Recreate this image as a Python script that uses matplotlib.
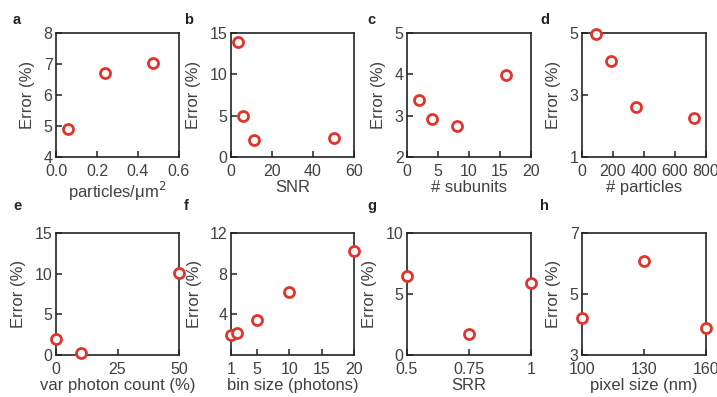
import matplotlib.pyplot as plt

plt.rcParams['font.family'] = ['Liberation Sans', 'DejaVu Sans']
plt.rcParams['font.size'] = 9

# Error (%) for each simulation parameter sweep
dens_x = [0.06, 0.24, 0.475]
dens_y = [4.9, 6.72, 7.02]

snr_x = [3.5, 6, 11, 50]
snr_y = [13.9, 5.0, 2.0, 2.3]

sub_x = [2, 4, 8, 16]
sub_y = [3.37, 2.93, 2.75, 3.99]

npart_x = [90, 185, 350, 720]
npart_y = [4.98, 4.1, 2.6, 2.26]

var_x = [0, 10, 50]
var_y = [1.95, 0.2, 10.1]

bin_x = [1, 2, 5, 10, 20]
bin_y = [2.0, 2.2, 3.4, 6.2, 10.2]

srr_x = [0.5, 0.75, 1.0]
srr_y = [6.5, 1.7, 5.9]

pix_x = [100, 130, 160]
pix_y = [4.2, 6.08, 3.88]

panels = [
    ('a', dens_x, dens_y, 'particles/μm$^{2}$', (0, 0.6), [0, 0.2, 0.4, 0.6], None,
     (4, 8), [4, 5, 6, 7, 8]),
    ('b', snr_x, snr_y, 'SNR', (0, 60), [0, 20, 40, 60], None,
     (0, 15), [0, 5, 10, 15]),
    ('c', sub_x, sub_y, '# subunits', (0, 20), [0, 5, 10, 15, 20], None,
     (2, 5), [2, 3, 4, 5]),
    ('d', npart_x, npart_y, '# particles', (0, 800), [0, 200, 400, 600, 800], None,
     (1, 5), [1, 3, 5]),
    ('e', var_x, var_y, 'var photon count (%)', (0, 50), [0, 25, 50], None,
     (0, 15), [0, 5, 10, 15]),
    ('f', bin_x, bin_y, 'bin size (photons)', (1, 20), [1, 5, 10, 15, 20], None,
     (0, 12), [4, 8, 12]),
    ('g', srr_x, srr_y, 'SRR', (0.5, 1.0), [0.5, 0.75, 1.0], ['0.5', '0.75', '1'],
     (0, 10), [0, 5, 10]),
    ('h', pix_x, pix_y, 'pixel size (nm)', (100, 160), [100, 130, 160], None,
     (3, 7), [3, 5, 7]),
]

W, H = 717, 397
fig = plt.figure(figsize=(W / 100, H / 100), dpi=100)

# axes boxes in pixels: left, right for each column; top, bottom for each row
cols = [(56, 179), (231, 354), (407, 531), (582, 706)]
rows = [(33, 157), (233, 355)]
# panel letter positions (left edge x, centre y)
tag_x = [13, 184, 367, 540]
tag_y = [20, 206]

red = '#e0342c'
txt = '#404040'

for i, (tag, xs, ys, xlab, xlim, xt, xtl, ylim, yt) in enumerate(panels):
    l, r = cols[i % 4]
    t, b = rows[i // 4]
    ax = fig.add_axes([l / W, 1 - b / H, (r - l) / W, (b - t) / H])
    ax.plot(xs, ys, 'o', mfc='white', mec=red, mew=2.0, ms=7.2, clip_on=False, zorder=5)
    ax.set_xlim(*xlim)
    ax.set_ylim(*ylim)
    ax.set_xticks(xt)
    if xtl:
        ax.set_xticklabels(xtl)
    ax.set_yticks(yt)
    ax.tick_params(direction='in', length=4, width=1.1, colors='#222222',
                   labelcolor=txt, labelsize=11.5, top=False, right=False)
    ax.tick_params(axis='x', pad=5)
    ax.tick_params(axis='y', pad=2.5)
    for sp in ax.spines.values():
        sp.set_linewidth(1.2)
        sp.set_color('#222222')
    ax.set_xlabel(xlab, fontsize=12, color=txt, labelpad=1)
    ax.set_ylabel('Error (%)', fontsize=12, color=txt, labelpad=6)
    fig.text(tag_x[i % 4] / W, 1 - tag_y[i // 4] / H, tag, fontsize=10.5,
             fontweight='bold', color='#222222', va='center', ha='left')

fig.savefig('out.png', dpi=100)
